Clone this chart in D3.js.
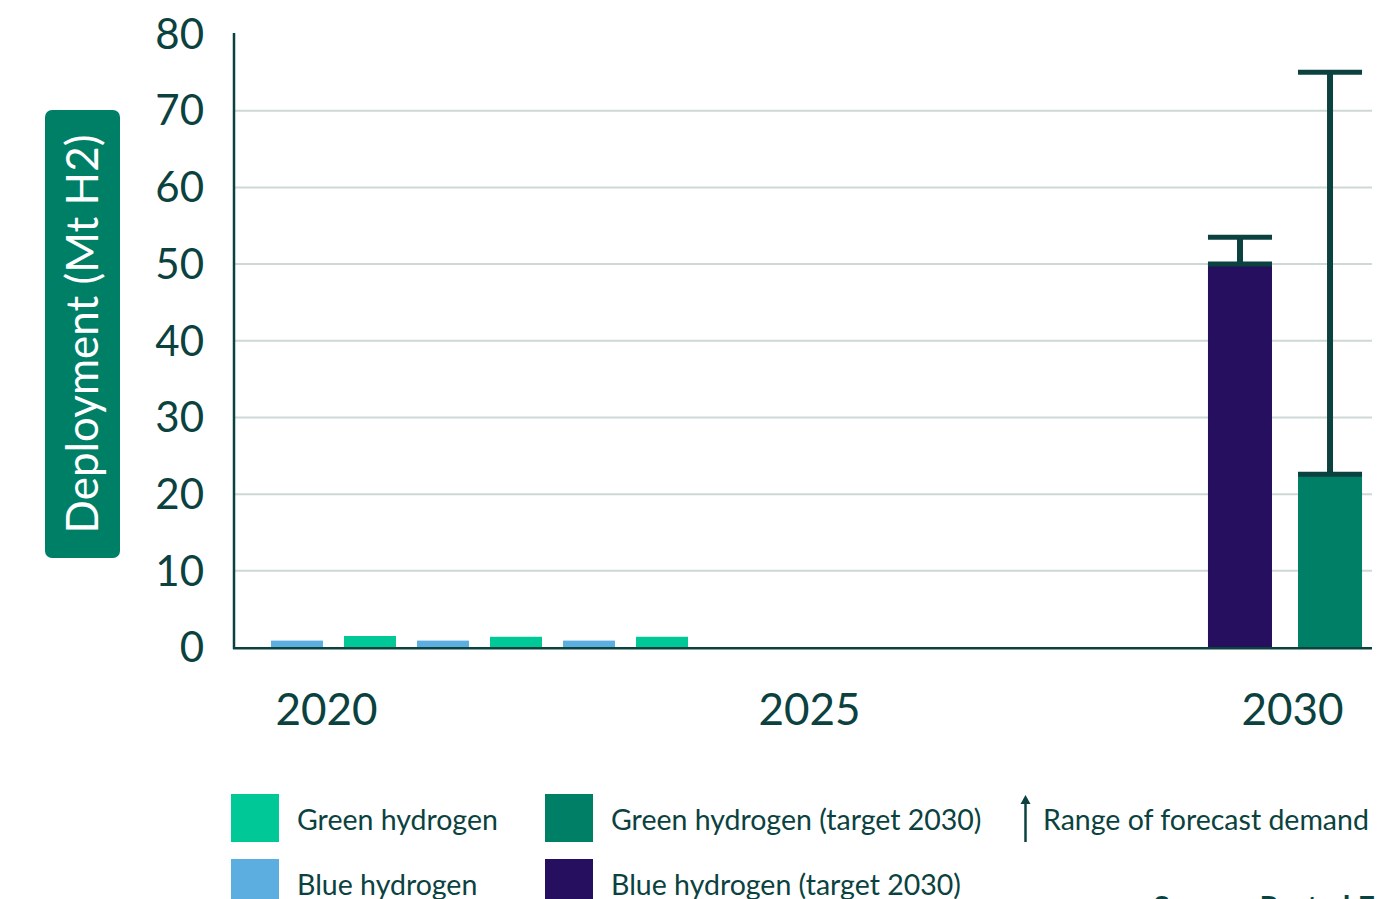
<!DOCTYPE html>
<html>
<head>
<meta charset="utf-8">
<script src="https://cdn.jsdelivr.net/npm/d3@7"></script>
<style>
  html, body { margin: 0; padding: 0; background: #ffffff; }
  svg { display: block; }
  text { font-family: "Lato", "Open Sans", sans-serif; }
</style>
</head>
<body>
<svg id="chart" width="1384" height="899"></svg>
<script>
// Current deployment (Mt H2) per year
const years = ["2020", "2021", "2022"];
const blueNow = [0.9, 0.9, 0.9];
const greenNow = [1.5, 1.4, 1.4];

// 2030 targets and range of forecast demand
const targetKeys = ["blue", "green"];
const targetValues = [50, 22.6];
const forecastLow = [50, 22.6];
const forecastHigh = [53.5, 75];

// Axis ticks
const yTicks = [0, 10, 20, 30, 40, 50, 60, 70, 80];
const xTickYears = [2020, 2025, 2030];

const colors = {
  green: "#00c896",
  blue: "#5daee0",
  greenTarget: "#007f67",
  blueTarget: "#250f5e",
  ink: "#0b4240",
  grid: "#cdd8d7"
};

const svg = d3.select("#chart");

const y = d3.scaleLinear().domain([0, 80]).range([647.5, 34]);
const xYear = d3.scaleLinear().domain([2020, 2030]).range([326, 1292]);

// Bar groups: current years on the left, 2030 targets on the right
const xGroup = d3.scaleBand().domain(years).range([260.5, 698.5]).padding(0);
const xSeries = d3.scaleBand().domain(["blue", "green"])
  .range([0, xGroup.bandwidth()]).paddingInner(0.288).paddingOuter(0.144);
const xTarget = d3.scaleBand().domain(targetKeys)
  .range([1195, 1375]).paddingInner(0.289).paddingOuter(0.144);

const plotLeft = 234, plotRight = 1372;

// Gridlines
svg.append("g")
  .selectAll("line")
  .data(yTicks.filter(t => t > 0 && t < 80))
  .join("line")
  .attr("x1", plotLeft).attr("x2", plotRight)
  .attr("y1", d => y(d)).attr("y2", d => y(d))
  .attr("stroke", colors.grid).attr("stroke-width", 2);

// Y tick labels
const yAxis = d3.axisLeft(y).tickValues(yTicks).tickSize(0).tickPadding(0);
const gy = svg.append("g").attr("transform", `translate(204,0)`).call(yAxis);
gy.select(".domain").remove();
gy.selectAll("text")
  .attr("x", 0).attr("dy", "0.34em")
  .attr("fill", colors.ink)
  .style("font-family", "Lato, sans-serif")
  .style("font-size", "42px");

// Current deployment bars
const nowRows = years.map((yr, i) => [
  { year: yr, key: "blue", value: blueNow[i] },
  { year: yr, key: "green", value: greenNow[i] }
]).flat();

svg.append("g")
  .selectAll("rect")
  .data(nowRows)
  .join("rect")
  .attr("x", d => xGroup(d.year) + xSeries(d.key))
  .attr("width", xSeries.bandwidth())
  .attr("y", d => y(d.value))
  .attr("height", d => y(0) - y(d.value))
  .attr("fill", d => d.key === "blue" ? colors.blue : colors.green);

// 2030 target bars
const targetRows = targetKeys.map((k, i) => ({
  key: k, value: targetValues[i], low: forecastLow[i], high: forecastHigh[i]
}));

svg.append("g")
  .selectAll("rect")
  .data(targetRows)
  .join("rect")
  .attr("x", d => xTarget(d.key))
  .attr("width", xTarget.bandwidth())
  .attr("y", d => y(d.value))
  .attr("height", d => y(0) - y(d.value))
  .attr("fill", d => d.key === "blue" ? colors.blueTarget : colors.greenTarget);

// Forecast demand ranges
const eb = svg.append("g").attr("stroke", colors.ink);
eb.selectAll("line.stem")
  .data(targetRows)
  .join("line")
  .attr("class", "stem")
  .attr("x1", d => xTarget(d.key) + xTarget.bandwidth() / 2)
  .attr("x2", d => xTarget(d.key) + xTarget.bandwidth() / 2)
  .attr("y1", d => y(d.low)).attr("y2", d => y(d.high))
  .attr("stroke-width", 6);
eb.selectAll("line.cap")
  .data(targetRows.flatMap(d => [{ key: d.key, v: d.low }, { key: d.key, v: d.high }]))
  .join("line")
  .attr("class", "cap")
  .attr("x1", d => xTarget(d.key))
  .attr("x2", d => xTarget(d.key) + xTarget.bandwidth())
  .attr("y1", d => y(d.v)).attr("y2", d => y(d.v))
  .attr("stroke-width", 5);

// Axis lines
svg.append("line")
  .attr("x1", plotLeft).attr("x2", plotLeft)
  .attr("y1", 33).attr("y2", y(0) + 1.5)
  .attr("stroke", colors.ink).attr("stroke-width", 2.5);
svg.append("line")
  .attr("x1", plotLeft - 1).attr("x2", plotRight)
  .attr("y1", y(0) + 0.8).attr("y2", y(0) + 0.8)
  .attr("stroke", colors.ink).attr("stroke-width", 2.6);

// X tick labels
const xAxis = d3.axisBottom(xYear).tickValues(xTickYears).tickFormat(d3.format("d")).tickSize(0).tickPadding(0);
const gx = svg.append("g").attr("transform", `translate(0,725)`).call(xAxis);
gx.select(".domain").remove();
gx.selectAll("text")
  .attr("y", 0).attr("dy", 0)
  .attr("fill", colors.ink)
  .style("font-family", "Lato, sans-serif")
  .style("font-size", "44px");

// Y axis title badge
svg.append("rect")
  .attr("x", 45).attr("y", 110).attr("width", 75).attr("height", 448)
  .attr("rx", 7).attr("fill", colors.greenTarget);
svg.append("text")
  .attr("transform", "translate(98,334) rotate(-90)")
  .attr("text-anchor", "middle")
  .attr("fill", "#ffffff")
  .style("font-size", "44px")
  .text("Deployment (Mt H2)");

// Legend
const legendItems = [
  { label: "Green hydrogen", color: colors.green, x: 231, y: 794 },
  { label: "Blue hydrogen", color: colors.blue, x: 231, y: 859 },
  { label: "Green hydrogen (target 2030)", color: colors.greenTarget, x: 545, y: 794 },
  { label: "Blue hydrogen (target 2030)", color: colors.blueTarget, x: 545, y: 859 }
];
const lg = svg.append("g");
lg.selectAll("rect")
  .data(legendItems)
  .join("rect")
  .attr("x", d => d.x).attr("y", d => d.y)
  .attr("width", 48).attr("height", 48)
  .attr("fill", d => d.color);
lg.selectAll("text")
  .data(legendItems)
  .join("text")
  .attr("x", d => d.x + 66).attr("y", d => d.y + 36)
  .attr("fill", colors.ink)
  .style("font-size", "28.5px")
  .text(d => d.label);

// Range legend arrow
svg.append("line")
  .attr("x1", 1025.5).attr("x2", 1025.5).attr("y1", 803).attr("y2", 842)
  .attr("stroke", colors.ink).attr("stroke-width", 2.5);
svg.append("path")
  .attr("d", "M1025.5,795 L1030.5,804 L1020.5,804 Z")
  .attr("fill", colors.ink);
svg.append("text")
  .attr("x", 1043).attr("y", 830)
  .attr("fill", colors.ink)
  .style("font-size", "28.5px")
  .text("Range of forecast demand");

// Source note
svg.append("text")
  .attr("x", 1153).attr("y", 918)
  .attr("fill", colors.ink)
  .style("font-size", "30px")
  .style("font-weight", "700")
  .text("Source: Rystad Energy (2022)");
</script>
</body>
</html>
